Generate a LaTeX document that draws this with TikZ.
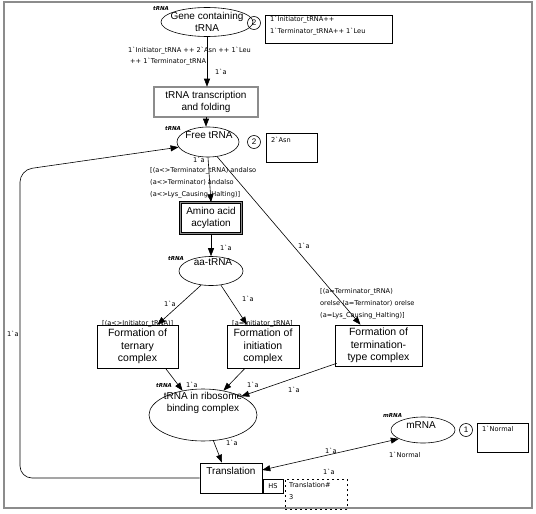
\documentclass[tikz,border=0pt]{standalone}
\usepackage{fontspec}
\setmainfont{Liberation Sans}
\newfontfamily\lblfont{DejaVu Sans}
\usetikzlibrary{shapes.geometric,arrows.meta}
\newcommand\bq{\textasciigrave}
\begin{document}
\begin{tikzpicture}[x=1pt,y=-1pt,
  place/.style={draw, ellipse, inner sep=0pt, line width=0.6pt},
  trans/.style={draw, rectangle, inner sep=0pt, fill=white, line width=0.6pt},
  subst/.style={trans, draw=black, double=black!45, double distance=1.3pt, line width=0.6pt},
  main/.style={font=\fontsize{10}{11.5}\selectfont, align=center, inner sep=0pt},
  lbl/.style={font=\lblfont\fontsize{6.6}{12}\selectfont, inner sep=0pt, align=left},
  tname/.style={font=\lblfont\bfseries\itshape\fontsize{5.5}{6}\selectfont, inner sep=0pt},
  tok/.style={draw, circle, inner sep=0pt, minimum size=13pt, font=\fontsize{8}{9}\selectfont, line width=0.6pt},
  markbox/.style={draw, rectangle, inner sep=0pt, line width=0.6pt},
  arc/.style={-{Triangle[length=8pt,width=6pt]}, line width=0.6pt},
  biarc/.style={{Triangle[length=8pt,width=6pt]}-{Triangle[length=8pt,width=6pt]}, line width=0.6pt},
]
\useasboundingbox (0,0) rectangle (536,514);
\draw[black!45, line width=1.5pt] (4,2) rectangle (532,508);

% Gene containing tRNA
\node[place, minimum width=92pt, minimum height=29pt] (gene) at (207,22) {};
\node[main] (genet) at (207,22) {Gene containing\\tRNA};
\node[tname, anchor=west] (genetype) at (153,8) {tRNA};
\node[tok] (genetok) at (254,23) {2};
\node[markbox, minimum width=127pt, minimum height=28pt] (genemark) at (328.5,29) {};
\node[lbl, anchor=north west] (genemarkt) at (270,16) {1\bq Initiator\_tRNA++\\1\bq Terminator\_tRNA++ 1\bq Leu};

% tRNA transcription and folding
\node[subst, main, minimum width=104pt, minimum height=30pt] (tr1) at (206,102) {tRNA transcription\\and folding};
\draw[arc] (gene.south) -- (gene.south |- tr1.north);
\node[lbl, anchor=base west] (l1) at (128,52) {1\bq Initiator\_tRNA ++ 2\bq Asn ++ 1\bq Leu};
\node[lbl, anchor=base west] (l2) at (130,63) {++ 1\bq Terminator\_tRNA};
\node[lbl, anchor=base west] (l3) at (215,74) {1\bq a};

% Free tRNA
\node[place, minimum width=62pt, minimum height=30pt] (free) at (208,142) {};
\node[main] (freet) at (209,135) {Free tRNA};
\node[tname, anchor=west] (freetype) at (165,128) {tRNA};
\node[tok] (freetok) at (254,142) {2};
\node[markbox, minimum width=51pt, minimum height=29pt] (freemark) at (291.5,147.5) {};
\node[lbl, anchor=north west] (freemarkt) at (271,137) {2\bq Asn};
\draw[arc] (tr1.south) -- (tr1.south |- free.north);

% Amino acid acylation
\node[subst, main, minimum width=61pt, minimum height=31pt] (acyl) at (211,218) {Amino acid\\acylation};
\draw[arc] (free.south) -- (acyl.north);
\node[lbl, anchor=base west] (l4) at (193,162) {1\bq a};
\node[lbl, anchor=north west] (g1) at (150,167) {[(a<>Terminator\_tRNA) andalso\\(a<>Terminator) andalso\\(a<>Lys\_Causing\_Halting)]};

% aa-tRNA
\node[place, minimum width=64pt, minimum height=29pt] (aa) at (211,271) {};
\node[main] (aat) at (213,262) {aa-tRNA};
\node[tname, anchor=west] (aatype) at (168,258) {tRNA};
\draw[arc] (acyl.south) -- (acyl.south |- aa.north);
\node[lbl, anchor=base west] (l5) at (220,250) {1\bq a};

% Formation boxes
\node[trans, minimum width=81pt, minimum height=43pt, font=\fontsize{10.5}{12.5}\selectfont, align=center] (tern) at (137.5,346.5) {Formation of\\ternary\\complex};
\node[trans, minimum width=72pt, minimum height=43pt, font=\fontsize{10.5}{12.5}\selectfont, align=center] (init) at (263,346.5) {Formation of\\initiation\\complex};
\node[trans, minimum width=87pt, minimum height=41pt, font=\fontsize{10.5}{12.5}\selectfont, align=center] (term) at (378.5,345.5) {Formation of\\termination-\\type complex};

\draw[arc] (aa.235) -- ([xshift=20pt]tern.north);
\draw[arc] (aa.-55) -- ([xshift=-16pt]init.north);
\draw[arc] (free.-58) -- ([xshift=-18pt]term.north);
\node[lbl, anchor=base west] (l6) at (164,306) {1\bq a};
\node[lbl, anchor=base west] (l7) at (242,301) {1\bq a};
\node[lbl, anchor=base west] (l8) at (298,248) {1\bq a};
\node[lbl, anchor=base west] (g2) at (102,325) {[(a<>Initiator\_tRNA)]};
\node[lbl, anchor=base west] (g3) at (232,325) {[a=Initiator\_tRNA]};
\node[lbl, anchor=north west] (g4) at (320,288) {[(a=Terminator\_tRNA)\\orelse (a=Terminator) orelse\\(a=Lys\_Causing\_Halting)]};

% tRNA in ribosome binding complex
\node[place, minimum width=108pt, minimum height=52pt] (bind) at (203,415) {};
\node[main] (bindt) at (203,403) {tRNA in ribosome\\binding complex};
\node[tname, anchor=west] (bindtype) at (156,385) {tRNA};
\draw[arc] ([xshift=28pt]tern.south) -- (bind.130);
\draw[arc] ([xshift=-18pt]init.south) -- (bind.50);
\draw[arc] ([xshift=2pt,yshift=3pt]term.south west) -- (bind.26);
\node[lbl, anchor=base west] (l9) at (186,387) {1\bq a};
\node[lbl, anchor=base west] (l10) at (247,387) {1\bq a};
\node[lbl, anchor=base west] (l11) at (288,392) {1\bq a};

% Translation
\node[trans, minimum width=62pt, minimum height=30pt] (transl) at (231,478) {};
\node[main] (translt) at (231,471) {Translation};
\draw[arc] (bind.-68) -- ([xshift=-9pt]transl.north);
\node[lbl, anchor=base west] (l12) at (226,445) {1\bq a};
\node[markbox, minimum width=20pt, minimum height=14pt, font=\lblfont\fontsize{6.6}{8}\selectfont] (hs) at (273,486) {HS};
\node[draw, dashed, dash pattern=on 2pt off 3pt, line width=0.5pt, minimum width=62pt, minimum height=30pt, inner sep=0pt] (hsbox) at (316,494) {};
\node[lbl, anchor=north west] (hst) at (289,482) {Translation\#\\3};

% mRNA
\node[place, minimum width=64pt, minimum height=26pt] (mrna) at (423,430) {};
\node[main] (mrnat) at (421,425) {mRNA};
\node[tname, anchor=west] (mrnatype) at (383,415) {mRNA};
\node[tok] (mrnatok) at (466,430) {1};
\node[markbox, minimum width=51pt, minimum height=29pt] (mrnamark) at (502.5,437.5) {};
\node[lbl, anchor=north west] (mrnamarkt) at (482,426) {1\bq Normal};
\node[lbl, anchor=base west] (mrnainit) at (389,457) {1\bq Normal};
\draw[biarc] ([yshift=8pt]transl.east) -- (mrna.200);
\node[lbl, anchor=base west] (l13) at (325,453) {1\bq a};
\node[lbl, anchor=base west] (l14) at (323,474) {1\bq a};

% loop back
\draw[arc, rounded corners=12pt] (transl.west) -- (20,478) -- (20,170) -- (free.190);
\node[lbl, anchor=base west] (l15) at (7,336) {1\bq a};
\end{tikzpicture}
\end{document}
